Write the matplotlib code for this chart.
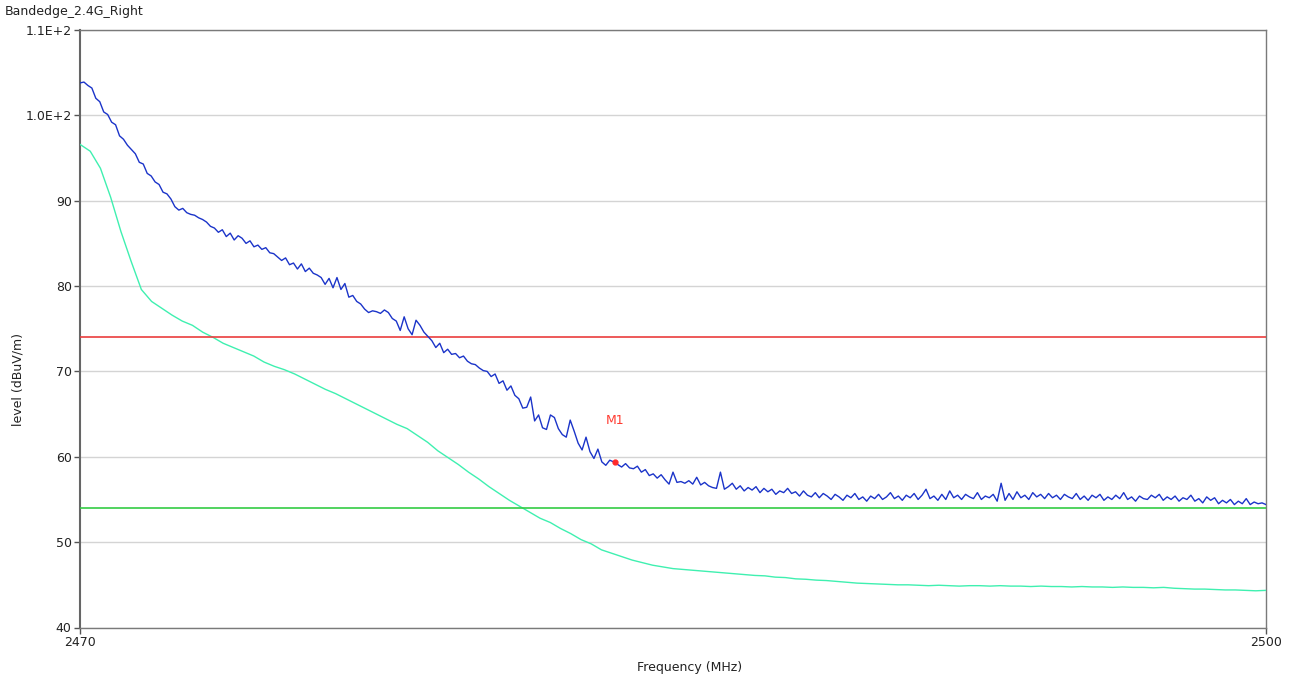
import numpy as np
import matplotlib
matplotlib.use("Agg")
import matplotlib.pyplot as plt

plt.rcParams['font.family'] = ['DejaVu Sans']

title = "Bandedge_2.4G_Right"
x_label = "Frequency (MHz)"
y_label = "level (dBuV/m)"
f_start, f_stop = 2470.0, 2500.0
y_ticks = [40, 50, 60, 70, 80, 90, 100, 110]
y_tick_labels = ["40", "50", "60", "70", "80", "90", "1.0E+2", "1.1E+2"]
x_ticks = [2470, 2500]
limit_peak = 74.0
limit_avg = 54.0
marker_name = "M1"
marker_freq = 2483.53
marker_level = 59.4

# Peak trace, 0.1 MHz steps (2470.0 ... 2500.0)
peak_trace = [
    103.8, 103.9, 103.5, 103.2, 102.0, 101.6, 100.4, 100.1, 99.2, 98.9,
    97.6, 97.2, 96.5, 96.0, 95.5, 94.5, 94.3, 93.2, 92.9, 92.2,
    91.9, 91.0, 90.8, 90.2, 89.3, 88.9, 89.1, 88.6, 88.4, 88.3,
    88.0, 87.8, 87.5, 87.0, 86.8, 86.3, 86.6, 85.8, 86.2, 85.4,
    85.9, 85.6, 85.0, 85.3, 84.6, 84.8, 84.3, 84.5, 83.9, 83.8,
    83.4, 83.0, 83.3, 82.5, 82.7, 82.0, 82.6, 81.7, 82.1, 81.5,
    81.3, 81.0, 80.2, 80.9, 79.8, 81.0, 79.6, 80.3, 78.7, 78.9,
    78.2, 77.9, 77.3, 76.9, 77.1, 77.0, 76.8, 77.2, 76.9, 76.2,
    75.9, 74.8, 76.4, 75.0, 74.3, 76.0, 75.4, 74.6, 74.1, 73.6,
    72.8, 73.3, 72.2, 72.6, 72.0, 72.1, 71.6, 71.8, 71.2, 70.9,
    70.8, 70.4, 70.1, 70.0, 69.4, 69.7, 68.6, 68.9, 67.8, 68.3,
    67.2, 66.8, 65.7, 65.8, 67.0, 64.2, 64.9, 63.4, 63.2, 64.9,
    64.6, 63.3, 62.6, 62.3, 64.3, 63.0, 61.6, 60.8, 62.3, 60.6,
    59.8, 60.9, 59.4, 59.0, 59.6, 59.4, 59.1, 58.8, 59.2, 58.7,
    58.6, 58.9, 58.2, 58.5, 57.8, 58.0, 57.5, 57.9, 57.3, 56.8,
    58.2, 57.0, 57.1, 56.9, 57.2, 56.8, 57.6, 56.7, 57.0, 56.6,
    56.4, 56.3, 58.2, 56.2, 56.5, 56.9, 56.2, 56.6, 56.0, 56.4,
    56.1, 56.5, 55.8, 56.3, 55.9, 56.2, 55.6, 56.0, 55.8, 56.3,
    55.7, 55.9, 55.4, 56.0, 55.5, 55.3, 55.8, 55.2, 55.7, 55.4,
    55.0, 55.6, 55.3, 54.9, 55.5, 55.2, 55.7, 55.0, 55.3, 54.8,
    55.4, 55.1, 55.6, 55.0, 55.3, 55.8, 55.1, 55.4, 54.9, 55.5,
    55.2, 55.7, 55.0, 55.5, 56.2, 55.1, 55.4, 54.9, 55.6, 55.0,
    56.0, 55.2, 55.5, 55.0, 55.6, 55.3, 55.1, 55.8, 55.0, 55.4,
    55.2, 55.6, 54.8, 56.9, 54.9, 55.7, 55.0, 55.9, 55.2, 55.5,
    55.0, 55.8, 55.3, 55.6, 55.1, 55.7, 55.2, 55.5, 55.0, 55.6,
    55.3, 55.1, 55.7, 55.0, 55.4, 54.9, 55.5, 55.2, 55.6, 54.9,
    55.3, 55.0, 55.5, 55.1, 55.8, 55.0, 55.3, 54.8, 55.4, 55.1,
    55.0, 55.5, 55.2, 55.6, 54.9, 55.3, 55.0, 55.4, 54.8, 55.2,
    55.0, 55.5, 54.8, 55.1, 54.6, 55.3, 54.9, 55.2, 54.5, 54.9,
    54.6, 55.0, 54.4, 54.8, 54.5, 55.1, 54.4, 54.7, 54.5, 54.6,
    54.4,
]

# Average trace, 0.25 MHz steps (2470.00 ... 2500.00)
avg_trace = [
    96.6, 95.8, 93.8, 90.4,
    86.4, 82.9, 79.6, 78.2,
    77.4, 76.6, 75.9, 75.4,
    74.6, 74.0, 73.3, 72.8,
    72.3, 71.8, 71.1, 70.6,
    70.2, 69.7, 69.1, 68.5,
    67.9, 67.4, 66.8, 66.2,
    65.6, 65.0, 64.4, 63.8,
    63.3, 62.5, 61.7, 60.7,
    59.9, 59.1, 58.2, 57.4,
    56.5, 55.7, 54.9, 54.2,
    53.5, 52.8, 52.3, 51.6,
    51.0, 50.3, 49.8, 49.1,
    48.7, 48.3, 47.9, 47.6,
    47.3, 47.1, 46.9, 46.8,
    46.7, 46.6, 46.5, 46.4,
    46.3, 46.2, 46.1, 46.05,
    45.9, 45.85, 45.7, 45.65,
    45.55, 45.5, 45.4, 45.3,
    45.2, 45.15, 45.1, 45.05,
    45.0, 45.0, 44.95, 44.9,
    44.95, 44.9, 44.85, 44.9,
    44.9, 44.85, 44.9, 44.85,
    44.85, 44.8, 44.85, 44.8,
    44.8, 44.75, 44.8, 44.75,
    44.75, 44.7, 44.75, 44.7,
    44.7, 44.65, 44.7, 44.6,
    44.55, 44.5, 44.5, 44.45,
    44.4, 44.4, 44.35, 44.3,
    44.35,
]

freq_peak = np.linspace(f_start, f_stop, len(peak_trace))
freq_avg = np.linspace(f_start, f_stop, len(avg_trace))

W, H = 1293, 681
fig = plt.figure(figsize=(W / 100, H / 100), dpi=100)
ax = fig.add_axes([80 / W, 1 - 627.5 / H, (1266 - 80) / W, (627.5 - 30) / H])

ax.set_xlim(f_start, f_stop)
ax.set_ylim(40, 110)

ax.set_yticks(y_ticks)
ax.set_yticklabels(y_tick_labels)
ax.set_xticks(x_ticks)
ax.set_xticklabels([str(t) for t in x_ticks])
ax.yaxis.grid(True, color='#d4d4d4', linewidth=1.0)
ax.set_axisbelow(True)

ax.plot(freq_avg, avg_trace, color='#3ff0b0', linewidth=1.0, zorder=3)
ax.plot(freq_peak, peak_trace, color='#1b34c9', linewidth=1.0, zorder=4)
ax.axhline(limit_peak, color='#ea3d3d', linewidth=1.2, zorder=3)
ax.axhline(limit_avg, color='#33cc44', linewidth=1.2, zorder=3)

ax.plot([marker_freq], [marker_level], 'o', color='#ff2a2a', markersize=3.5, zorder=5)
ax.text(marker_freq, 64.3, marker_name, color='#ff3b30', fontsize=9,
        ha='center', va='center', zorder=6)

for s in ax.spines.values():
    s.set_color('#7a7a7a')
    s.set_linewidth(1.0)
ax.spines['left'].set_linewidth(1.5)
ax.spines['left'].set_color('#666666')

ax.tick_params(axis='both', direction='out', length=4, width=1, color='#555555',
               labelsize=9, labelcolor='#222222', pad=2)

fig.text(5 / W, 1 - 11 / H, title, fontsize=9, color='#222222', ha='left', va='center')
fig.text(690 / W, 1 - 667 / H, x_label, fontsize=9, color='#222222', ha='center', va='center')
fig.text(18 / W, 1 - 380 / H, y_label, fontsize=9, color='#222222', ha='center', va='center',
         rotation=90)

fig.savefig("out.png", dpi=100)
